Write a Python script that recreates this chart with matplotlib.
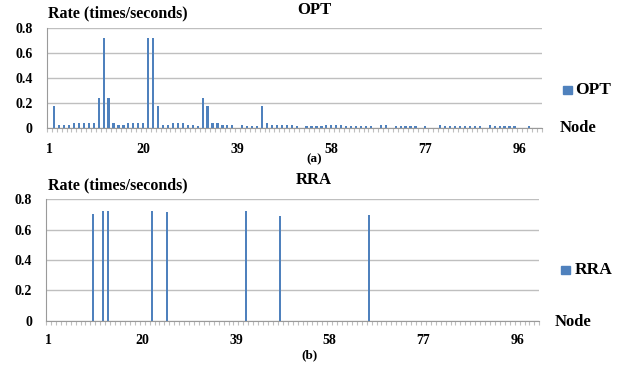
import numpy as np
import matplotlib
matplotlib.use('Agg')
import matplotlib.pyplot as plt

# node indices 1..100
nodes = list(range(1, 101))

# OPT rate per node
opt_rate = [
    0, 0.18, 0.025, 0.025, 0.025, 0.045, 0.045, 0.045, 0.045, 0.045,
    0.24, 0.72, 0.24, 0.045, 0.025, 0.025, 0.045, 0.045, 0.045, 0.045,
    0.72, 0.72, 0.18, 0.025, 0.025, 0.045, 0.045, 0.045, 0.025, 0.025,
    0.015, 0.24, 0.18, 0.045, 0.045, 0.025, 0.025, 0.025, 0, 0.025,
    0.015, 0.015, 0.015, 0.18, 0.045, 0.025, 0.025, 0.025, 0.025, 0.025,
    0.015, 0, 0.015, 0.015, 0.015, 0.015, 0.025, 0.025, 0.025, 0.025,
    0.015, 0.015, 0.015, 0.015, 0.015, 0.015, 0, 0.025, 0.025, 0,
    0.015, 0.015, 0.015, 0.015, 0.015, 0, 0.015, 0, 0, 0.025,
    0.015, 0.015, 0.015, 0.015, 0.015, 0.015, 0.015, 0.015, 0, 0.025,
    0.015, 0.015, 0.015, 0.015, 0.015, 0, 0, 0.015, 0, 0,
]

# RRA: only a few nodes carry traffic (panel b)
rra_nodes = [10, 12, 13, 22, 25, 41, 48, 66]
rra_rate = [0.70, 0.72, 0.72, 0.72, 0.715, 0.72, 0.69, 0.695]

xtick_nodes = [1, 20, 39, 58, 77, 96]
ytick_vals = [0, 0.2, 0.4, 0.6, 0.8]
ytick_labels = ['0', '0.2', '0.4', '0.6', '0.8']

bar_color = '#4F81BD'
grid_color = '#BFBFBF'
serif = 'Liberation Serif'

W, H = 635, 369
fig = plt.figure(figsize=(W / 100, H / 100), dpi=100)


def px_axes(left, right, top, bottom):
    return fig.add_axes([left / W, 1 - bottom / H, (right - left) / W, (bottom - top) / H])


def style(ax, label_pad):
    ax.set_xlim(0.5, 100.5)
    ax.set_ylim(0, 0.8)
    ax.set_yticks(ytick_vals)
    ax.set_yticklabels(ytick_labels, fontfamily=serif, fontweight='bold', fontsize=10)
    ax.set_xticks(xtick_nodes)
    ax.set_xticklabels([str(n) for n in xtick_nodes], fontfamily=serif, fontweight='bold', fontsize=10)
    ax.set_xticks(np.arange(0.5, 101, 1), minor=True)
    ax.tick_params(axis='x', which='major', length=0, pad=label_pad)
    ax.tick_params(axis='x', which='minor', length=3, color=grid_color, width=0.8)
    ax.tick_params(axis='y', length=0, pad=10)
    ax.grid(axis='y', color=grid_color, linewidth=1)
    ax.set_axisbelow(True)
    for s in ['top', 'right']:
        ax.spines[s].set_visible(False)
    ax.spines['left'].set_color('#9A9A9A')
    ax.spines['bottom'].set_color('#9A9A9A')


# panel (a)
ax1 = px_axes(46.7, 541.7, 28.3, 128.3)
ax1.bar(nodes, opt_rate, width=0.45, color=bar_color, label='OPT')
style(ax1, 10.5)

# panel (b)
ax2 = px_axes(46, 539.3, 199.3, 320.5)
ax2.bar(rra_nodes, rra_rate, width=0.45, color=bar_color, label='RRA')
style(ax2, 9.5)

txt = dict(fontfamily=serif, fontweight='bold')
fig.text(48 / W, 1 - 13 / H, 'Rate (times/seconds)', fontsize=11.5, va='center', **txt)
fig.text(48 / W, 1 - 185 / H, 'Rate (times/seconds)', fontsize=11.5, va='center', **txt)
fig.text(314 / W, 1 - 10 / H, 'OPT', fontsize=12, ha='center', va='center', **txt)
fig.text(314 / W, 1 - 180 / H, 'RRA', fontsize=12, ha='center', va='center', **txt)
fig.text(560 / W, 1 - 128 / H, 'Node', fontsize=12, va='center', **txt)
fig.text(555 / W, 1 - 322 / H, 'Node', fontsize=12, va='center', **txt)
fig.text(314 / W, 1 - 159 / H, '(a)', fontsize=9.5, ha='center', va='center', **txt)
fig.text(310 / W, 1 - 355 / H, '(b)', fontsize=9.5, ha='center', va='center', **txt)

# legends
fig.patches.append(plt.Rectangle((563 / W, 1 - 94 / H), 9 / W, 8 / H, color=bar_color,
                                 transform=fig.transFigure, figure=fig))
fig.text(575 / W, 1 - 90 / H, 'OPT', fontsize=12.5, va='center', **txt)
fig.patches.append(plt.Rectangle((561 / W, 1 - 274 / H), 9 / W, 8 / H, color=bar_color,
                                 transform=fig.transFigure, figure=fig))
fig.text(575 / W, 1 - 270 / H, 'RRA', fontsize=12.5, va='center', **txt)

fig.savefig('out.png', dpi=100)
